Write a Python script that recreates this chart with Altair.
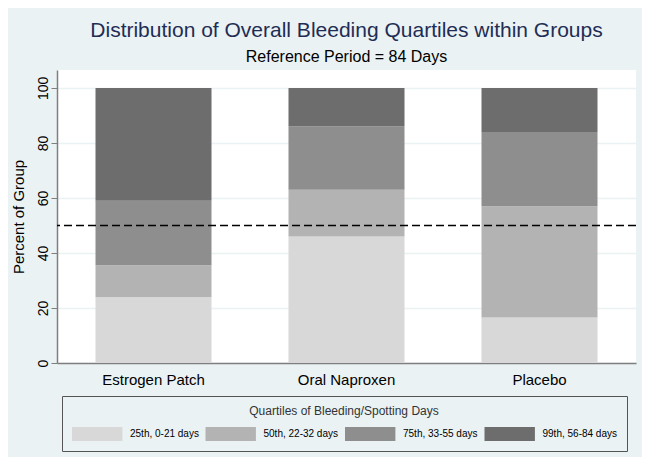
import altair as alt
import pandas as pd

groups = ["Estrogen Patch", "Oral Naproxen", "Placebo"]
quartiles = ["25th, 0-21 days", "50th, 22-32 days", "75th, 33-55 days", "99th, 56-84 days"]
q_colors = ["#D8D8D8", "#B3B3B3", "#8E8E8E", "#6D6D6D"]
# percent of group in each quartile (segment heights), bottom to top
seg_estrogen = [24.0, 11.5, 23.5, 41.0]
seg_naproxen = [46.0, 17.0, 23.0, 14.0]
seg_placebo = [16.5, 40.5, 27.0, 16.0]
reference_line = [50]

rows = []
for g, segs in zip(groups, [seg_estrogen, seg_naproxen, seg_placebo]):
    for i, (q, v) in enumerate(zip(quartiles, segs)):
        rows.append({"group": g, "quartile": q, "order": i, "pct": v})
df = pd.DataFrame(rows)

FONT = "Liberation Sans"

bars = alt.Chart(df).mark_bar(size=116).encode(
    x=alt.X("group:N", sort=groups,
            scale=alt.Scale(paddingInner=0.4, paddingOuter=0.2),
            axis=alt.Axis(title=None, labelAngle=0, labelFontSize=15, labelColor="black",
                          labelFont=FONT, ticks=False, labelPadding=9,
                          domainColor="#7F7F7F", domainWidth=1.5, grid=False)),
    y=alt.Y("pct:Q", stack="zero",
            scale=alt.Scale(domain=[0, 106.5], nice=False),
            axis=alt.Axis(title="Percent of Group", values=[0, 20, 40, 60, 80, 100],
                          labelAngle=270, labelFontSize=14, labelColor="black", labelFont=FONT,
                          labelAlign="center", labelBaseline="bottom", labelPadding=1,
                          titleFontSize=15, titleFont=FONT, titleFontWeight="normal",
                          titleColor="black", titlePadding=10,
                          tickColor="#7F7F7F", tickSize=6, domainColor="#7F7F7F", domainWidth=1.5,
                          gridColor="#EAF2F3", gridWidth=1.5)),
    color=alt.Color("quartile:N", sort=quartiles,
                    scale=alt.Scale(domain=quartiles, range=q_colors),
                    legend=alt.Legend(title="Quartiles of Bleeding/Spotting Days",
                                      orient="none", legendX=5, legendY=326,
                                      direction="horizontal", columns=4,
                                      titleAnchor="middle", titleFontSize=12, titleFont=FONT,
                                      titleFontWeight="normal", titleColor="#333333",
                                      titlePadding=9, titleLimit=500,
                                      labelFontSize=10, labelFont=FONT, labelColor="black",
                                      labelOffset=44, columnPadding=6.5, labelLimit=200,
                                      symbolType="M-1,-1H6.2V1H-1Z", symbolSize=196,
                                      symbolStrokeWidth=0, symbolOpacity=1,
                                      strokeColor="#555555", padding=10,
                                      fillColor="#EAF2F3")),
    order=alt.Order("order:Q", sort="ascending"),
)

rule_df = pd.DataFrame({"y": reference_line})
rule = alt.Chart(rule_df).mark_rule(color="black", strokeDash=[8, 4], strokeWidth=1.5).encode(
    y="y:Q"
)

chart = alt.layer(bars, rule).properties(
    width=579,
    height=293,
    title=alt.TitleParams(
        text="Distribution of Overall Bleeding Quartiles within Groups",
        subtitle="Reference Period = 84 Days",
        font=FONT, fontSize=21, fontWeight="normal", color="#1F2D55",
        subtitleFont=FONT, subtitleFontSize=16, subtitleColor="black",
        anchor="middle", offset=5, subtitlePadding=8,
    ),
    padding={"left": 2, "top": 12, "right": 5, "bottom": 5},
    background="#EAF2F3",
).configure_view(fill="white", stroke=None)

chart.save("out.html", embed_options={"renderer": "svg", "actions": False})
